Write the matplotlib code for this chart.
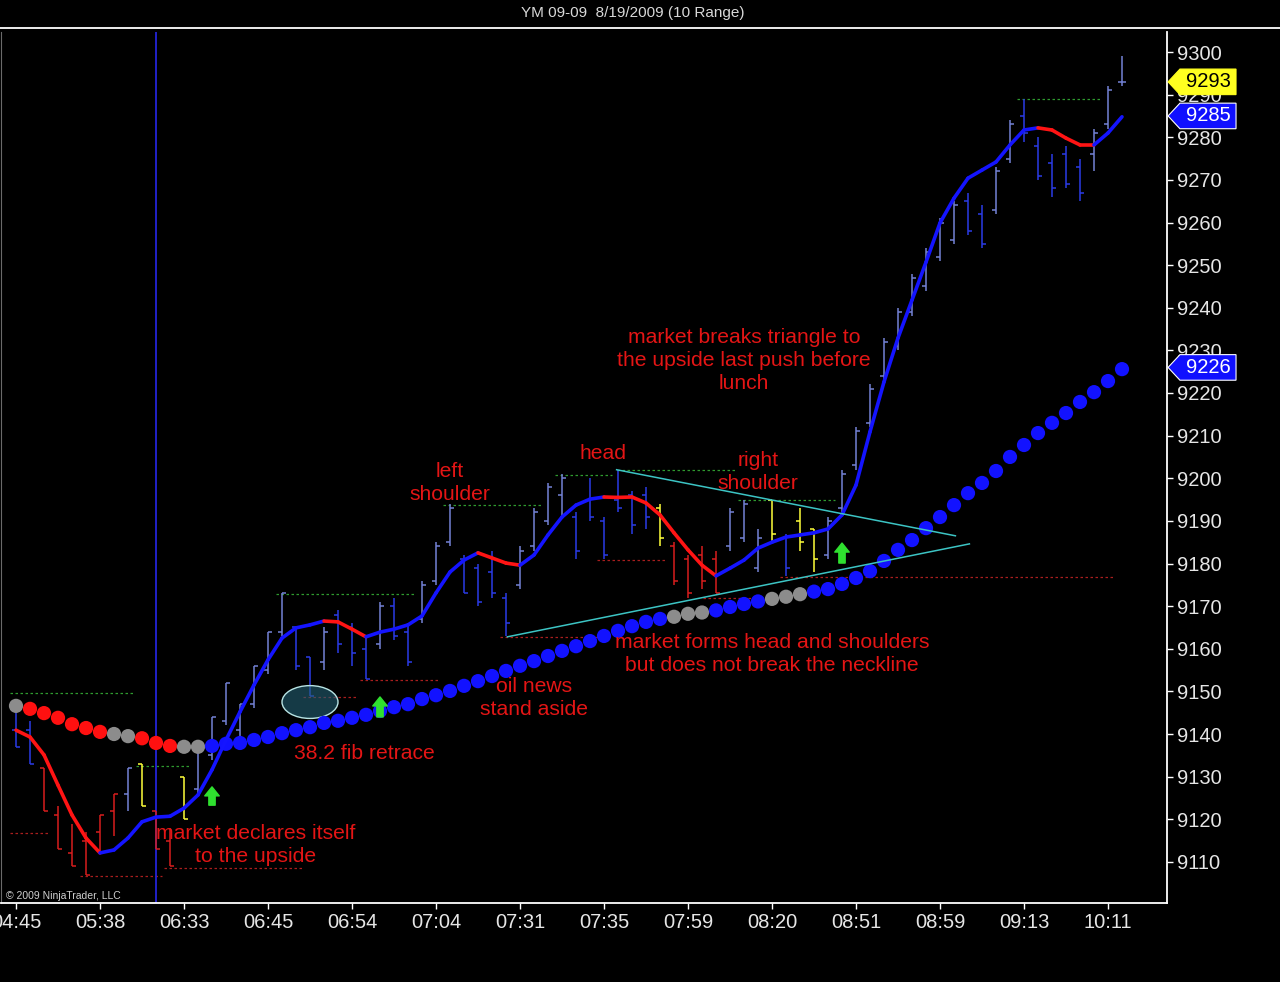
import matplotlib
matplotlib.use("Agg")
import matplotlib.pyplot as plt
from matplotlib.patches import Ellipse, Polygon

plt.rcParams['font.family'] = ['Liberation Sans', 'DejaVu Sans']

# ---- YM 09-09, 10 range bars, one slot per bar ----
highs = [9147, 9143, 9132, 9123, 9119, 9117, 9121, 9126, 9132, 9133,
         9122, 9118, 9130, 9136, 9144, 9152, 9147, 9156, 9164, 9173,
         9165, 9158, 9165, 9169, 9166, 9163, 9171, 9172, 9166, 9176,
         9185, 9194, 9182, 9180, 9183, 9173, 9184, 9193, 9199, 9201,
         9192, 9200, 9191, 9202, 9197, 9198, 9194, 9185, 9182, 9184,
         9183, 9193, 9195, 9188, 9195, 9187, 9193, 9188, 9191, 9202,
         9212, 9222, 9233, 9240, 9248, 9254, 9261, 9265, 9267, 9264,
         9273, 9284, 9289, 9280, 9276, 9278, 9275, 9282, 9292, 9299]
lows = [9137, 9133, 9122, 9113, 9109, 9107, 9112, 9116, 9122, 9123,
        9113, 9109, 9120, 9126, 9134, 9142, 9137, 9146, 9154, 9163,
        9155, 9149, 9155, 9159, 9156, 9153, 9160, 9162, 9156, 9166,
        9175, 9184, 9173, 9170, 9172, 9163, 9174, 9183, 9189, 9191,
        9181, 9190, 9181, 9192, 9187, 9188, 9184, 9175, 9172, 9174,
        9173, 9183, 9185, 9178, 9185, 9177, 9183, 9178, 9181, 9192,
        9202, 9212, 9223, 9230, 9238, 9244, 9251, 9255, 9257, 9254,
        9262, 9274, 9279, 9270, 9266, 9268, 9265, 9272, 9282, 9292]
opens = [9141, 9141, 9132, 9121, 9112, 9115, 9117, 9122, 9126, 9133,
         9122, 9115, 9130, 9127, 9135, 9143, 9141, 9147, 9155, 9164,
         9165, 9158, 9157, 9168, 9165, 9160, 9161, 9170, 9164, 9167,
         9176, 9185, 9181, 9179, 9178, 9172, 9175, 9184, 9190, 9196,
         9191, 9195, 9190, 9195, 9196, 9196, 9193, 9184, 9181, 9182,
         9181, 9184, 9186, 9179, 9195, 9186, 9190, 9188, 9182, 9193,
         9203, 9213, 9224, 9231, 9239, 9245, 9252, 9256, 9265, 9262,
         9263, 9275, 9285, 9278, 9274, 9276, 9273, 9276, 9283, 9293]
closes = [9137, 9133, 9122, 9113, 9109, 9107, 9121, 9126, 9132, 9123,
          9113, 9109, 9120, 9136, 9144, 9152, 9147, 9156, 9164, 9173,
          9156, 9149, 9164, 9161, 9159, 9153, 9170, 9163, 9157, 9175,
          9184, 9193, 9173, 9171, 9173, 9166, 9183, 9192, 9198, 9200,
          9183, 9191, 9182, 9193, 9189, 9191, 9186, 9176, 9173, 9176,
          9173, 9192, 9194, 9186, 9187, 9179, 9185, 9181, 9190, 9201,
          9211, 9221, 9232, 9239, 9247, 9253, 9260, 9264, 9258, 9255,
          9272, 9283, 9281, 9271, 9268, 9269, 9267, 9281, 9291, 9293]
# u = up bar, d = down bar, r = red painted, y = yellow painted
bar_kind = ("ddrrrrrruyrryuuuuuuu"
            "dduddduddu"
            "uudddduuuu"
            "ddddddyrrr"
            "ruuuydyyuu"
            "uuuuuuuudd"
            "uuddddduuu")

# smoothed trend line, red where it was falling
ma_values = [9140.9, 9139.3, 9135.1, 9128.0, 9121.0, 9115.6, 9112.1, 9112.8, 9115.6, 9119.4,
             9120.5, 9120.7, 9122.6, 9125.7, 9131.6, 9138.6, 9145.2, 9151.5, 9157.4, 9162.5,
             9164.9, 9165.6, 9166.5, 9166.3, 9164.6, 9162.8, 9163.9, 9164.6, 9165.6, 9167.7,
             9173.1, 9178.0, 9180.8, 9182.5, 9181.3, 9180.1, 9179.6, 9182.0, 9186.7, 9190.9,
             9193.7, 9195.1, 9195.6, 9195.5, 9195.6, 9194.2, 9191.4, 9187.2, 9183.2, 9179.6,
             9177.1, 9178.9, 9180.8, 9183.6, 9185.0, 9186.2, 9186.7, 9187.2, 9188.1, 9191.4,
             9198.4, 9210.9, 9222.6, 9232.9, 9241.8, 9250.7, 9259.9, 9265.7, 9270.4, 9272.3,
             9274.2, 9278.2, 9281.7, 9282.2, 9281.7, 9279.8, 9278.2, 9278.2, 9281.0, 9284.8]
ma_red_runs = [(0, 6), (22, 25), (33, 36), (42, 50), (73, 77)]

# dotted trailing indicator
dot_values = [9146.6, 9145.9, 9144.9, 9143.8, 9142.3, 9141.4, 9140.5, 9140.0, 9139.5, 9139.0,
              9137.9, 9137.2, 9137.0, 9137.0, 9137.2, 9137.7, 9137.9, 9138.6, 9139.3, 9140.2,
              9140.9, 9141.6, 9142.6, 9143.1, 9143.8, 9144.5, 9145.4, 9146.3, 9147.0, 9148.2,
              9149.1, 9150.1, 9151.3, 9152.4, 9153.6, 9154.8, 9156.0, 9157.1, 9158.3, 9159.5,
              9160.6, 9161.8, 9163.0, 9164.2, 9165.3, 9166.3, 9167.0, 9167.5, 9168.2, 9168.5,
              9169.0, 9169.8, 9170.5, 9171.1, 9171.7, 9172.2, 9172.8, 9173.4, 9174.0, 9175.2,
              9176.6, 9178.2, 9180.6, 9183.2, 9185.5, 9188.3, 9190.9, 9193.7, 9196.5, 9198.9,
              9201.7, 9205.0, 9207.8, 9210.6, 9213.0, 9215.3, 9217.9, 9220.2, 9222.8, 9225.6]
dot_kind = ("grrrrrrggrrrggbbbbbb"
            "bbbbbbbbbbbbbbbbbbbb"
            "bbbbbbbggg"
            "bbbbgggbbb"
            "bbbbbbbbbbbbbbbbbbbb")

time_labels = ["04:45", "05:38", "06:33", "06:45", "06:54", "07:04", "07:31",
               "07:35", "07:59", "08:20", "08:51", "08:59", "09:13", "10:11"]
label_step = 6
price_ticks = list(range(9110, 9301, 10))

# swing high / low reference lines: level, from bar, to bar
high_levels = [9149.6, 9132.5, 9172.8, 9193.7, 9200.8, 9202.0, 9195.0, 9289.0]
high_from = [-0.4, 8.6, 18.6, 30.5, 38.5, 42.9, 51.6, 71.5]
high_to = [8.5, 12.4, 28.5, 37.6, 42.6, 51.5, 58.5, 77.6]
low_levels = [9116.8, 9106.7, 9108.6, 9148.7, 9152.7, 9162.8, 9180.8, 9171.9, 9176.9]
low_from = [-0.4, 4.6, 10.6, 20.5, 24.6, 34.6, 41.5, 49.1, 54.6]
low_to = [2.4, 10.4, 20.5, 24.4, 30.3, 42.4, 46.5, 52.9, 78.5]

session_bar = 10
tri_upper_x = [42.9, 67.1]
tri_upper_y = [9202.0, 9186.5]
tri_lower_x = [35.1, 68.1]
tri_lower_y = [9162.8, 9184.6]
signal_bars = [14, 26, 59]
signal_low = [9123.3, 9144.0, 9180.1]
signal_high = [9127.6, 9148.7, 9184.8]
fib_bar, fib_price = 21.0, 9147.5

notes = [
    ("market declares itself\nto the upside", 17.1, 9114.0),
    ("38.2 fib retrace", 24.9, 9135.5),
    ("oil news\nstand aside", 37.0, 9148.4),
    ("left\nshoulder", 31.0, 9198.9),
    ("head", 41.9, 9205.7),
    ("right\nshoulder", 53.0, 9201.5),
    ("market breaks triangle to\nthe upside last push before\nlunch", 52.0, 9227.7),
    ("market forms head and shoulders\nbut does not break the neckline", 54.0, 9158.8),
]

BAR_COLORS = {'u': '#7482d6', 'd': '#2b3be6', 'r': '#d81e1e', 'y': '#ffff3a'}
DOT_COLORS = {'g': '#8c8c8c', 'r': '#ff1010', 'b': '#1212ff'}
TEXT_RED = '#e41515'

fig = plt.figure(figsize=(12.8, 9.82), dpi=100, facecolor='black')
W, H = 1280.0, 982.0
ax = fig.add_axes([1 / W, 1 - 903 / H, 1166 / W, 871 / H], facecolor='black')

n = len(highs)
idx = list(range(n))
bcol = [BAR_COLORS[k] for k in bar_kind]

# OHLC bars
ax.vlines(idx, lows, highs, colors=bcol, lw=1.1, zorder=2)
ax.hlines(opens, [i - 0.3 for i in idx], idx, colors=bcol, lw=1.1, zorder=2)
ax.hlines(closes, idx, [i + 0.3 for i in idx], colors=bcol, lw=1.1, zorder=2)

# swing lines
ax.hlines(high_levels, high_from, high_to, colors='#2f9a2f', lw=0.9,
          linestyles=(0, (2, 2)), zorder=1.5)
ax.hlines(low_levels, low_from, low_to, colors='#a81e1e', lw=0.9,
          linestyles=(0, (2, 2)), zorder=1.5)

ax.axvline(session_bar, color='#2424d8', lw=1.3, zorder=1.8)

# fib retrace ellipse
ax.add_patch(Ellipse((fib_bar, fib_price), 4.0, 7.7, fc=(0.14, 0.38, 0.46, 0.6),
                     ec='#b8e4e4', lw=1.0, zorder=2.5))

# indicator dots
ax.scatter(idx, dot_values, s=105, c=[DOT_COLORS[k] for k in dot_kind],
           edgecolors='none', zorder=3)

# trend line
red_segments = set()
for a, b in ma_red_runs:
    red_segments.update(range(a, b))
for i in range(n - 1):
    c = '#ff1414' if i in red_segments else '#1414ff'
    ax.plot([i, i + 1], ma_values[i:i + 2], color=c, lw=2.6,
            solid_capstyle='round', zorder=4)

# triangle
ax.plot(tri_upper_x, tri_upper_y, color='#3cc4c4', lw=1.1, zorder=4.5)
ax.plot(tri_lower_x, tri_lower_y, color='#3cc4c4', lw=1.1, zorder=4.5)

# long signals
for b, lo, hi in zip(signal_bars, signal_low, signal_high):
    ax.annotate('', xy=(b, hi), xytext=(b, lo),
                arrowprops=dict(arrowstyle='simple,head_length=0.5,head_width=0.8,tail_width=0.35',
                                fc='#2fe02f', ec='#2fe02f', mutation_scale=13, shrinkA=0, shrinkB=0),
                zorder=5)

for txt, x, y in notes:
    ax.text(x, y, txt, color=TEXT_RED, fontsize=15.2, ha='center', va='center',
            linespacing=1.27, zorder=6)

# axes styling
ax.set_xlim(-15 / 14, 1151 / 14)
ax.set_ylim(9300 - 851 / 4.2625, 9300 + 20 / 4.2625)
ax.spines['top'].set_visible(False)
ax.spines['left'].set_color('#6a6a6a')
ax.spines['right'].set_color('white')
ax.spines['bottom'].set_color('white')
ax.spines['right'].set_linewidth(1.3)
ax.spines['bottom'].set_linewidth(1.3)

ax.yaxis.tick_right()
ax.set_yticks(price_ticks)
ax.set_yticklabels([str(p) for p in price_ticks])
ax.tick_params(axis='y', colors='white', labelcolor='#e6e6e6', length=4, width=1,
               labelsize=14.5, pad=3)
ax.set_xticks(list(range(0, n, label_step)))
ax.set_xticklabels(time_labels)
ax.tick_params(axis='x', colors='white', labelcolor='#e6e6e6', length=4, width=1,
               labelsize=14.5, pad=3)

# price flags on the axis (last close, trend line, dots)
tr = ax.get_yaxis_transform()
flags = [(closes[-1], '#ffff20', 'black'),
         (ma_values[-1], '#1010ff', 'white'),
         (dot_values[-1], '#1010ff', 'white')]
for val, fc, tc in flags:
    v = round(val)
    half = 3.0
    poly = Polygon([(1.0009, v), (1.0111, v + half), (1.0592, v + half),
                    (1.0592, v - half), (1.0111, v - half)], closed=True,
                   transform=tr, fc=fc, ec='white' if tc == 'white' else fc,
                   lw=0.8, clip_on=False, zorder=10)
    ax.add_patch(poly)
    ax.text(1.0355, v, str(v), transform=tr, color=tc, fontsize=14.5,
            ha='center', va='center', clip_on=False, zorder=11)

# frame line at top and title
fig.add_artist(plt.Line2D([0, 1], [1 - 27.5 / H, 1 - 27.5 / H], color='white', lw=1.3))
fig.text(633 / W, 1 - 13 / H, "YM 09-09  8/19/2009 (10 Range)", color='#d8d8d8',
         fontsize=11, ha='center', va='center')
fig.text(6 / W, 1 - 896 / H, "\u00a9 2009 NinjaTrader, LLC", color='#d0d0d0',
         fontsize=7.5, ha='left', va='center')

fig.savefig('out.png', dpi=100, facecolor='black')
